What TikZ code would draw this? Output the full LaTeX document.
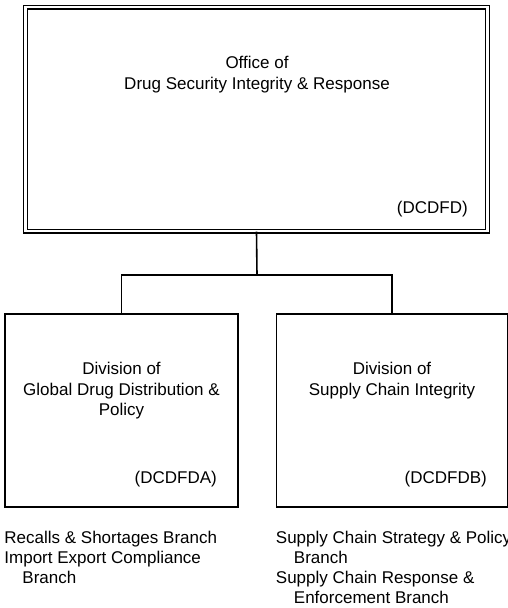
\documentclass[tikz,border=0pt]{standalone}
\usepackage{fontspec}
\setmainfont{Liberation Sans}
\usetikzlibrary{positioning}

\begin{document}
\begin{tikzpicture}[
    x=1pt, y=-1pt,
    orgbox/.style={rectangle, draw=black, line width=1.5pt, fill=white,
                   inner sep=0pt},
    officebox/.style={orgbox, double, double distance=2.4pt, line width=1.3pt},
    boxtext/.style={inner sep=0pt, align=center, font=\fontsize{17}{20.5}\selectfont},
    codetext/.style={inner sep=0pt, font=\fontsize{17}{20}\selectfont},
    branchlist/.style={inner sep=0pt, align=left, font=\fontsize{17}{20}\selectfont},
    link/.style={line width=1.6pt}
]
\useasboundingbox (0,0) rectangle (508,608);

% Office
\node[officebox, minimum width=462pt, minimum height=224pt] (office) at (256.5,119) {};
\node[boxtext, anchor=north] (officetitle) at (257,56)
      {Office of\\Drug Security Integrity \& Response};
\node[codetext, anchor=east] (officecode) at (468,209) {(DCDFD)};

% Divisions
\node[orgbox, minimum width=233pt, minimum height=193pt] (divA) at (121.5,410.5) {};
\node[orgbox, minimum width=231pt, minimum height=193pt] (divB) at (392,410.5) {};

\node[boxtext, anchor=north] (divAtitle) at (121.5,362)
      {Division of\\Global Drug Distribution \&\\Policy};
\node[boxtext, anchor=north] (divBtitle) at (392,362)
      {Division of\\Supply Chain Integrity};

\node[codetext, anchor=east] (divAcode) at (217,479) {(DCDFDA)};
\node[codetext, anchor=east] (divBcode) at (487,479) {(DCDFDB)};

% Tree lines
\coordinate (split) at (257,275);
\draw[link] (office.south) -- (split);
\draw[link] (divA.north) |- (split) -| (divB.north);

% Branches
\node[branchlist, below right=23.5pt and 0pt of divA.south west] (branchesA)
      {Recalls \& Shortages Branch\\Import Export Compliance\\\hspace*{18pt}Branch};
\node[branchlist, below right=23.5pt and 0pt of divB.south west] (branchesB)
      {Supply Chain Strategy \& Policy\\\hspace*{18pt}Branch\\Supply Chain Response \&\\\hspace*{18pt}Enforcement Branch};

\end{tikzpicture}
\end{document}
